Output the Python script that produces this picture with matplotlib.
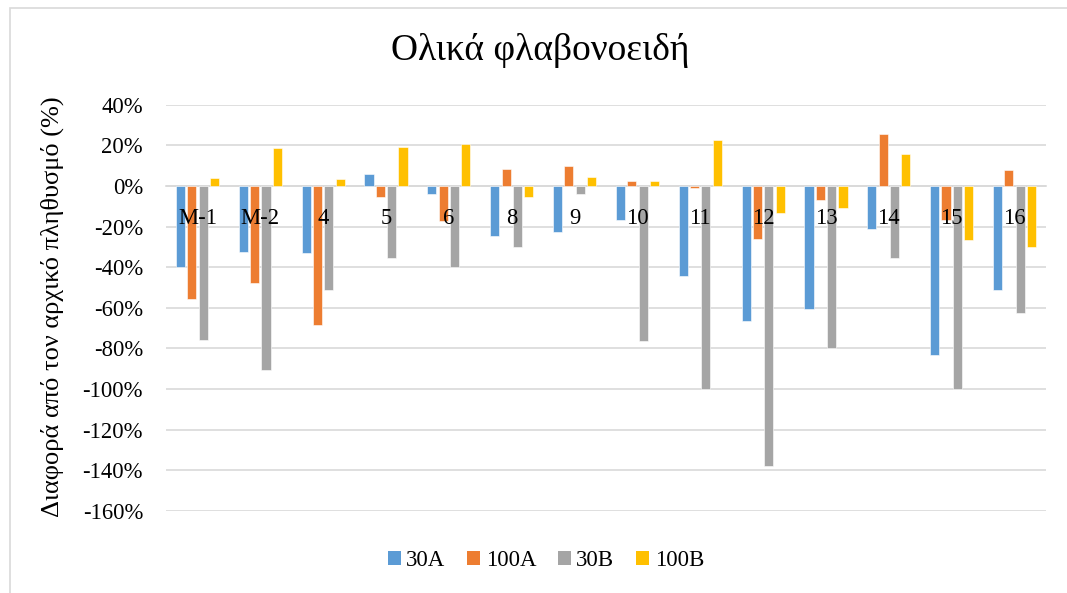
import numpy as np
import matplotlib
matplotlib.use("Agg")
import matplotlib.pyplot as plt
import matplotlib.transforms as mtransforms
from matplotlib.ticker import FuncFormatter
from matplotlib.patches import Rectangle, Patch

plt.rcParams['font.family'] = ['Liberation Serif', 'DejaVu Serif']

# data (% change from the initial population)
categories = ['M-1', 'M-2', '4', '5', '6', '8', '9', '10', '11', '12', '13', '14', '15', '16']
series_names = ['30A', '100A', '30B', '100B']
val_30A = [-40, -32.5, -33, 5.8, -4.1, -24.6, -22.7, -16.9, -44.1, -66.7, -60.4, -21, -83.4, -51.2]
val_100A = [-55.5, -47.6, -68.3, -5.4, -17.2, 8.2, 9.9, 2.6, -1, -26.1, -7, 25.8, -16.9, 7.6]
val_30B = [-75.7, -90.4, -51.4, -35.3, -39.9, -30.2, -3.8, -76.3, -100, -138, -79.8, -35.3, -100, -62.4]
val_100B = [3.9, 18.7, 3.3, 19.4, 20.4, -5.6, 4.3, 2.6, 22.5, -13.3, -10.8, 15.6, -26.7, -30.2]
colors = ['#5B9BD5', '#ED7D31', '#A5A5A5', '#FFC000']

fig = plt.figure(figsize=(10.67, 5.93), dpi=100)
ax = fig.add_axes([0.1556, 0.1383, 0.8247, 0.6852])

# chart frame
fig.patches.append(Rectangle((0.0094, -0.01), 1.0, 0.9966, transform=fig.transFigure,
                             fill=False, edgecolor='#D9D9D9', linewidth=1.2))

x = np.arange(len(categories))
pitch = 0.18
width = 0.145
for i, (name, vals) in enumerate(zip(series_names, [val_30A, val_100A, val_30B, val_100B])):
    ax.bar(x + (i - 1.5) * pitch, vals, width, color=colors[i], label=name,
           edgecolor='white', linewidth=0.4, zorder=3)

ax.set_xlim(-0.5, len(categories) - 0.5)
ax.set_ylim(-160, 40)
ax.set_yticks(np.arange(-160, 41, 20))
ax.yaxis.set_major_formatter(FuncFormatter(lambda v, p: f'{v:.0f}%'))
ax.grid(axis='y', color='#D9D9D9', linewidth=1.2, zorder=0)

for s in ['top', 'right', 'left']:
    ax.spines[s].set_visible(False)
ax.spines['bottom'].set_position(('data', 0))
ax.spines['bottom'].set_color('#D9D9D9')
ax.spines['bottom'].set_linewidth(1.2)

# category names sit just under the zero line, on top of the bars
ax.set_xticks([])
lbl_tr = mtransforms.offset_copy(ax.transData, fig=fig, x=0, y=-16, units='points')
for xi, c in zip(x, categories):
    ax.text(xi, 0, c, transform=lbl_tr, ha='center', va='top', fontsize=16.3, zorder=6)

ax.tick_params(axis='y', length=0, labelsize=16.3, pad=16.5)

fig.text(0.0487, 0.483, 'Διαφορά από τον αρχικό πληθυσμό (%)', rotation=90,
         ha='center', va='center', fontsize=19)

fig.text(0.506, 0.915, 'Ολικά φλαβονοειδή', ha='center', va='center', fontsize=27)

# square legend keys
handles = [Patch(facecolor=c, edgecolor='none') for c in colors]
fig.legend(handles, series_names, loc='center', bbox_to_anchor=(0.5117, 0.054), ncol=4,
           frameon=False, fontsize=16.5, handlelength=0.55, handleheight=0.55,
           handletextpad=0.25, columnspacing=0.95)

fig.savefig('out.png', dpi=100)
